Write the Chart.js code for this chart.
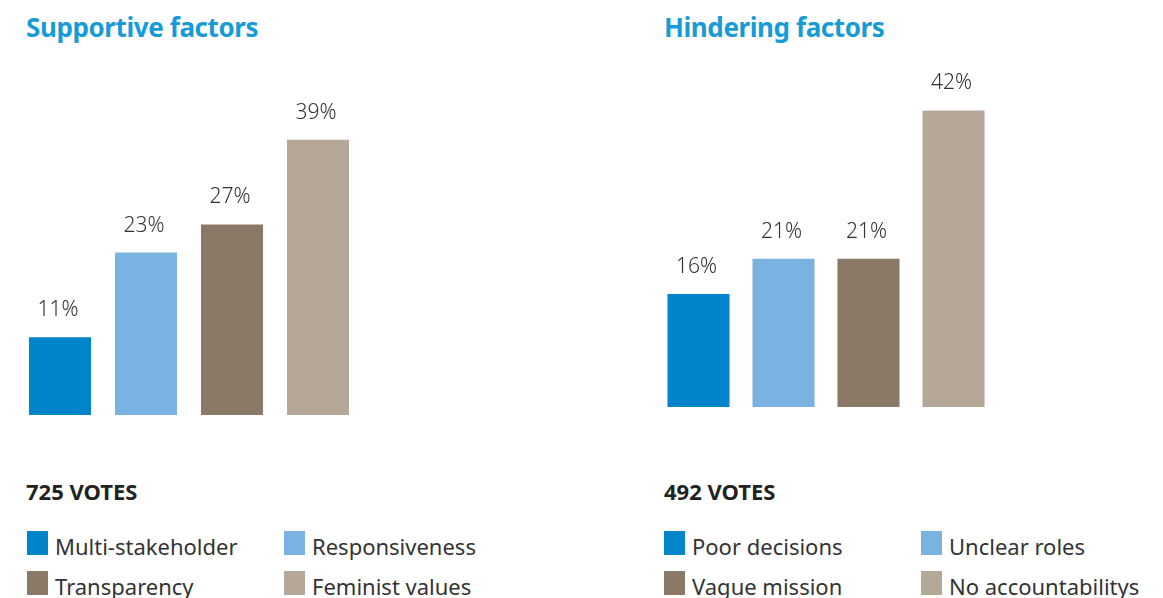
<!DOCTYPE html>
<html>
<head>
<meta charset="utf-8">
<script src="https://cdn.jsdelivr.net/npm/chart.js@4.4.0/dist/chart.umd.min.js"></script>
<style>
  html, body { margin: 0; padding: 0; background: #fff; }
  body { width: 1163px; height: 598px; position: relative; overflow: hidden; font-family: "Noto Sans", sans-serif; }
  .title { position: absolute; top: 9px; font-size: 26px; font-weight: bold; color: #179BD7; letter-spacing: -0.4px; }
  .votes { position: absolute; top: 476px; font-size: 22px; font-weight: bold; color: #222; letter-spacing: 0px; }
  .box { position: absolute; }
  .item { position: absolute; font-size: 22px; color: #333; white-space: nowrap; }
  .sw { position: absolute; width: 21px; height: 24px; }
</style>
</head>
<body>
<div class="title" style="left:26px">Supportive factors</div>
<div class="title" style="left:664px">Hindering factors</div>
<div class="votes" style="left:26px">725 VOTES</div>
<div class="votes" style="left:664px">492 VOTES</div>
<div class="box" style="left:17px;top:62px;width:344px;height:353px"><canvas id="left"></canvas></div>
<div class="box" style="left:656px;top:54px;width:340px;height:353px"><canvas id="right"></canvas></div>
<div id="legendLeft"></div>
<div id="legendRight"></div>
<script>
// data
const supportiveLabels = ['Multi-stakeholder', 'Responsiveness', 'Transparency', 'Feminist values'];
const supportiveValues = [11, 23, 27, 39];

const hinderingLabels = ['Poor decisions', 'Unclear roles', 'Vague mission', 'No accountabilitys'];
const hinderingValues = [16, 21, 21, 42];

const barColors = ['#0085CA', '#7AB3E1', '#8A7967', '#B5A898'];

// draws the % above each bar
const valueLabels = {
  id: 'valueLabels',
  afterDatasetsDraw(chart) {
    const c = chart.ctx;
    c.save();
    c.font = '300 21px "Noto Sans", sans-serif';
    c.fillStyle = '#333';
    c.textAlign = 'center';
    c.textBaseline = 'middle';
    chart.getDatasetMeta(0).data.forEach((bar, i) => {
      c.fillText(chart.data.datasets[0].data[i] + '%', bar.x - 2, bar.y - 27);
    });
    c.restore();
  }
};

function makeChart(id, labels, values, barPct) {
  new Chart(document.getElementById(id), {
    type: 'bar',
    data: {
      labels: labels,
      datasets: [{ data: values, backgroundColor: barColors, categoryPercentage: 1, barPercentage: barPct }]
    },
    options: {
      responsive: true,
      maintainAspectRatio: false,
      animation: false,
      events: [],
      layout: { padding: 0 },
      plugins: { legend: { display: false }, tooltip: { enabled: false } },
      scales: {
        x: { display: false },
        y: { display: false, min: 0, max: 50 }
      }
    },
    plugins: [valueLabels]
  });
}

makeChart('left', supportiveLabels, supportiveValues, 0.721);
makeChart('right', hinderingLabels, hinderingValues, 0.73);

// legend in two columns
function makeLegend(el, labels, x0, x1) {
  const cont = document.getElementById(el);
  const rows = [534, 574];
  labels.forEach((lab, i) => {
    const x = i % 2 === 0 ? x0 : x1;
    const y = rows[Math.floor(i / 2)];
    const sw = document.createElement('div');
    sw.className = 'sw';
    sw.style.left = x + 'px';
    sw.style.top = (y - 3) + 'px';
    sw.style.background = barColors[i];
    cont.appendChild(sw);
    const t = document.createElement('div');
    t.className = 'item';
    t.style.left = (x + 28) + 'px';
    t.style.top = (y - 3) + 'px';
    t.textContent = lab;
    cont.appendChild(t);
  });
}
makeLegend('legendLeft', supportiveLabels, 27, 284);
makeLegend('legendRight', hinderingLabels, 664, 921);
</script>
</body>
</html>
